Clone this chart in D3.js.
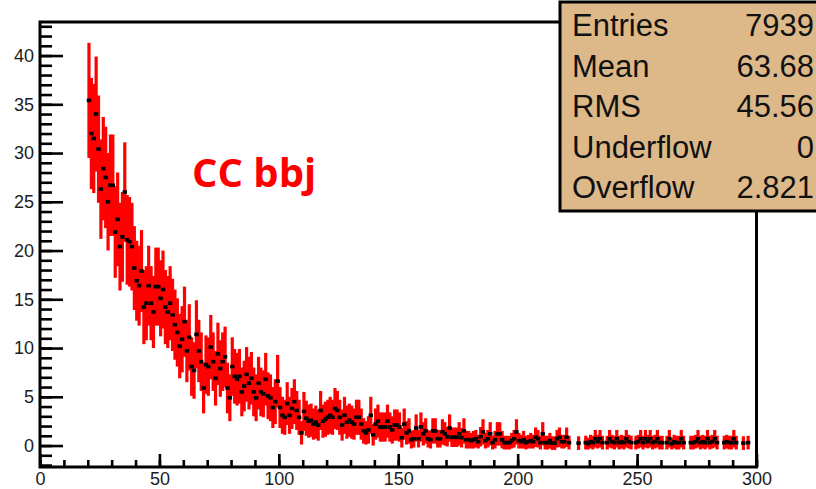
<!DOCTYPE html>
<html>
<head>
<meta charset="utf-8">
<script src="https://cdn.jsdelivr.net/npm/d3@7"></script>
<style>
  html, body { margin: 0; padding: 0; background: #fff; overflow: hidden; }
  svg { display: block; }
  .axis text { font-family: "Liberation Sans", Arial, sans-serif; font-size: 18px; fill: #1c1c1c; }
  .stats text { font-family: "Liberation Sans", Arial, sans-serif; font-size: 31px; fill: #111; }
</style>
</head>
<body>
<div id="chart"></div>
<script>
// histogram: one entry per bin of width 1, first bin starts at x = 20
const firstBin = 20
const binValues = [
  35.4, 32.0, 31.5, 34.0, 30.4, 26.3, 28.4, 27.5, 25.0, 26.7,
  26.7, 21.9, 23.2, 20.4, 21.4, 26.0, 21.1, 20.9, 20.4, 18.2,
  16.9, 16.4, 17.9, 14.2, 14.6, 16.4, 14.6, 13.7, 16.3, 16.3,
  15.1, 16.0, 14.2, 13.7, 14.6, 13.4, 12.4, 11.6, 10.2, 10.9,
  12.7, 9.7, 11.1, 8.1, 7.7, 11.4, 9.7, 8.6, 5.9, 8.3,
  8.1, 10.1, 8.6, 6.9, 9.4, 7.9, 8.6, 9.1, 5.9, 4.9,
  8.1, 7.1, 6.8, 7.1, 5.5, 6.1, 7.3, 6.4, 6.9, 5.5,
  4.9, 6.4, 5.5, 5.3, 6.8, 5.1, 4.9, 3.9, 4.5, 6.6,
  3.9, 3.1, 2.9, 4.3, 3.1, 3.8, 4.5, 3.6, 2.9, 1.3,
  3.5, 2.8, 2.5, 2.6, 2.2, 2.4, 2.1, 3.6, 2.5, 2.7,
  2.9, 3.1, 2.9, 3.8, 3.6, 2.9, 2.1, 3.1, 2.4, 2.6,
  2.4, 2.2, 2.9, 2.9, 2.2, 1.5, 1.3, 1.6, 3.1, 1.1,
  2.2, 2.5, 1.9, 1.9, 1.9, 2.5, 1.9, 1.6, 2.1, 2.1,
  1.9, 0.8, 2.2, 1.3, 1.5, 0.6, 0.7, 1.8, 0.7, 1.9,
  1.2, 1.5, 0.7, 0.6, 1.5, 1.5, 0.7, 0.7, 1.4, 1.2,
  0.9, 1.8, 0.85, 0.85, 0.85, 1.2, 0.8, 1.5, 0.6, 0.6,
  0.5, 0.6, 0.7, 0.4, 0.9, 1.4, 0.5, 0.7, 1.2, 0.3,
  0.6, 1.2, 1.2, 0.6, 0.3, 0.3, 0.3, 0.5, 0.7, 1.4,
  0.5, 0.4, 0.6, 0.3, 0.4, 0.5, 0.4, 0.85, 0.7, 0.3,
  1.2, 0.3, 0.3, 0.5, 0.25, 0.25, 0.7, 0.85, 0.4, 0.4,
  0.85, 0.3, null, null, null, 0.25, null, null, 0.3, 0.2,
  0.4, 0.3, 0.7, 0.4, 0.7, 0.3, null, 0.3, 0.7, 0.4,
  0.3, 0.7, 0.3, 0.4, 0.3, 0.7, 0.4, 0.3, null, 0.3,
  0.4, 0.7, 0.3, 0.7, 0.4, 0.7, 0.3, 0.4, 0.7, 0.3,
  0.3, null, 0.3, 0.7, 0.2, 0.4, 0.3, 0.3, 0.7, 0.3,
  null, null, 0.3, 0.3, 0.4, 0.7, 0.3, 0.4, 0.3, 0.7,
  0.3, 0.4, 0.7, 0.3, null, null, 0.3, 0.4, 0.3, 0.3,
  0.7, 0.3, null, null, 0.25, null, 0.3, null, null, null
]
const binErrors = [
  5.9, 5.7, 5.6, 5.9, 5.5, 5.1, 5.3, 5.2, 5.0, 5.2,
  5.2, 4.7, 4.8, 4.5, 4.6, 5.1, 4.6, 4.6, 4.5, 4.3,
  4.1, 4.1, 4.2, 3.8, 3.8, 4.1, 3.8, 3.7, 4.0, 4.0,
  3.9, 4.0, 3.8, 3.7, 3.8, 3.7, 3.6, 3.5, 3.3, 3.4,
  3.6, 3.2, 3.4, 3.0, 2.9, 3.5, 3.2, 3.0, 2.6, 3.0,
  3.0, 3.3, 3.0, 2.8, 3.2, 2.9, 3.0, 3.1, 2.6, 2.4,
  3.0, 2.8, 2.7, 2.8, 2.5, 2.6, 2.8, 2.7, 2.7, 2.5,
  2.4, 2.7, 2.5, 2.4, 2.7, 2.4, 2.4, 2.1, 2.3, 2.7,
  2.1, 1.9, 1.8, 2.2, 1.9, 2.1, 2.3, 2.0, 1.8, 1.2,
  2.0, 1.8, 1.7, 1.7, 1.6, 1.7, 1.6, 2.0, 1.7, 1.8,
  1.8, 1.9, 1.8, 2.1, 2.0, 1.8, 1.6, 1.9, 1.7, 1.7,
  1.7, 1.6, 1.8, 1.8, 1.6, 1.3, 1.2, 1.4, 1.9, 1.1,
  1.6, 1.7, 1.5, 1.5, 1.5, 1.7, 1.5, 1.4, 1.6, 1.6,
  1.5, 1.0, 1.6, 1.2, 1.3, 0.9, 0.9, 1.4, 0.9, 1.5,
  1.2, 1.3, 0.9, 0.9, 1.3, 1.3, 0.9, 0.9, 1.3, 1.2,
  1.0, 1.4, 1.0, 1.0, 1.0, 1.2, 1.0, 1.3, 0.9, 0.9,
  0.8, 0.9, 0.9, 0.7, 1.0, 1.3, 0.8, 0.9, 1.2, 0.7,
  0.9, 1.2, 1.2, 0.9, 0.7, 0.7, 0.7, 0.8, 0.9, 1.3,
  0.8, 0.7, 0.9, 0.7, 0.7, 0.8, 0.7, 1.0, 0.9, 0.7,
  1.2, 0.7, 0.7, 0.8, 0.7, 0.7, 0.9, 1.0, 0.7, 0.7,
  1.0, 0.7, 0, 0, 0, 0.7, 0, 0, 0.7, 0.6,
  0.7, 0.7, 0.9, 0.7, 0.9, 0.7, 0, 0.7, 0.9, 0.7,
  0.7, 0.9, 0.7, 0.7, 0.7, 0.9, 0.7, 0.7, 0, 0.7,
  0.7, 0.9, 0.7, 0.9, 0.7, 0.9, 0.7, 0.7, 0.9, 0.7,
  0.7, 0, 0.7, 0.9, 0.6, 0.7, 0.7, 0.7, 0.9, 0.7,
  0, 0, 0.7, 0.7, 0.7, 0.9, 0.7, 0.7, 0.7, 0.9,
  0.7, 0.7, 0.9, 0.7, 0, 0, 0.7, 0.7, 0.7, 0.7,
  0.9, 0.7, 0, 0, 0.7, 0, 0.7, 0, 0, 0
]
const xMajorTicks = [0, 50, 100, 150, 200, 250, 300]
const yMajorTicks = [0, 5, 10, 15, 20, 25, 30, 35, 40]
const statNames = ['Entries', 'Mean', 'RMS', 'Underflow', 'Overflow']
const statValues = ['7939', '63.68', '45.56', '0', '2.821']
const sampleLabel = 'CC bbj'

const W = 816, H = 489
const frame = { left: 40, right: 756.5, top: 22, bottom: 467 }

const bins = binValues.map((v, i) => ({ lo: firstBin + i, hi: firstBin + i + 1, v: v, e: binErrors[i] }))
  .filter(d => d.v !== null)

const svg = d3.select('#chart').append('svg')
  .attr('width', W)
  .attr('height', H)

const x = d3.scaleLinear().domain([0, 300]).range([frame.left, frame.right])
const y = d3.scaleLinear().domain([-2.2, 43.44]).range([frame.bottom, frame.top])

// error bars
svg.append('g')
  .selectAll('rect')
  .data(bins)
  .enter()
  .append('rect')
  .attr('x', d => x((d.lo + d.hi) / 2) - 1.6)
  .attr('width', 3.2)
  .attr('y', d => y(d.v + d.e))
  .attr('height', d => Math.max(y(d.v - d.e) - y(d.v + d.e), 3))
  .attr('fill', '#ff0000')

svg.append('g')
  .selectAll('line')
  .data(bins)
  .enter()
  .append('line')
  .attr('x1', d => x(d.lo))
  .attr('x2', d => x(d.hi))
  .attr('y1', d => y(d.v))
  .attr('y2', d => y(d.v))
  .attr('stroke', '#ff0000')
  .attr('stroke-width', 3)

// markers
svg.append('g')
  .selectAll('rect')
  .data(bins)
  .enter()
  .append('rect')
  .attr('x', d => x((d.lo + d.hi) / 2) - 2.2)
  .attr('y', d => y(d.v) - 1.8)
  .attr('width', 4.4)
  .attr('height', 3.6)
  .attr('fill', '#000')

// axes, ticks pointing inside the frame
svg.append('g')
  .attr('class', 'axis')
  .attr('transform', `translate(0, ${frame.bottom})`)
  .call(d3.axisBottom(x).tickValues(d3.range(0, 301, 10)).tickSize(-7).tickFormat(''))
svg.append('g')
  .attr('class', 'axis')
  .attr('transform', `translate(0, ${frame.bottom})`)
  .call(d3.axisBottom(x).tickValues(xMajorTicks).tickSize(-13).tickPadding(5).tickFormat(d3.format('d')))

svg.append('g')
  .attr('class', 'axis')
  .attr('transform', `translate(${frame.left}, 0)`)
  .call(d3.axisLeft(y).tickValues(d3.range(-2, 44, 1)).tickSize(-12).tickFormat(''))
svg.append('g')
  .attr('class', 'axis')
  .attr('transform', `translate(${frame.left}, 0)`)
  .call(d3.axisLeft(y).tickValues(yMajorTicks).tickSize(-23).tickPadding(6).tickFormat(d3.format('d')))

svg.selectAll('.axis .domain').remove()
svg.selectAll('.axis line').attr('stroke', '#000').attr('stroke-width', 2.6)

// frame
svg.append('rect')
  .attr('x', frame.left)
  .attr('y', frame.top)
  .attr('width', frame.right - frame.left)
  .attr('height', frame.bottom - frame.top)
  .attr('fill', 'none')
  .attr('stroke', '#000')
  .attr('stroke-width', 3)

// sample label
svg.append('text')
  .attr('x', 192)
  .attr('y', 187)
  .attr('font-family', '"Open Sans", "Liberation Sans", sans-serif')
  .attr('font-weight', 'bold')
  .attr('font-size', 40)
  .attr('fill', '#ff0000')
  .text(sampleLabel)

// stats box
const stats = svg.append('g').attr('class', 'stats')
stats.append('rect')
  .attr('x', 560)
  .attr('y', 2)
  .attr('width', 300)
  .attr('height', 209)
  .attr('fill', '#ddb98a')
  .attr('stroke', '#000')
  .attr('stroke-width', 3)

statNames.forEach((name, i) => {
  const base = 36 + i * 40.5
  stats.append('text')
    .attr('x', 572)
    .attr('y', base)
    .text(name)
  stats.append('text')
    .attr('x', 814)
    .attr('y', base)
    .attr('text-anchor', 'end')
    .text(statValues[i])
})
</script>
</body>
</html>
